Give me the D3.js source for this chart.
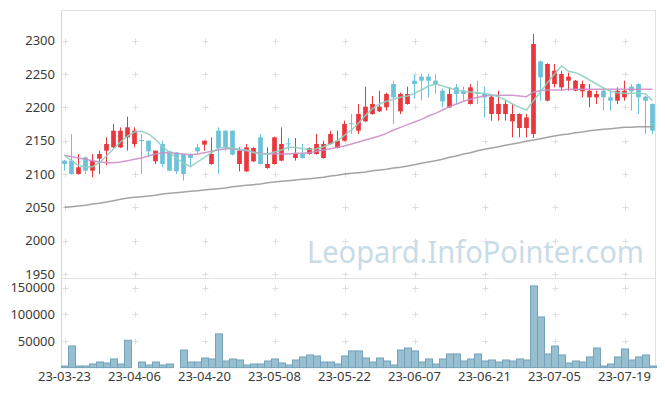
<!DOCTYPE html>
<html>
<head>
<meta charset="utf-8">
<script src="https://cdn.jsdelivr.net/npm/d3@7"></script>
<style>
    body { margin: 0; background: #fff; }
    svg { display: block; font-family: 'Noto Sans', sans-serif; }
</style>
</head>
<body>
<svg width="665" height="396"></svg>
<script>
//////////////////////   DATA    //////////////////////

var dates = ['23-03-23', '23-03-24', '23-03-27', '23-03-28', '23-03-29', '23-03-30', '23-03-31',
    '23-04-03', '23-04-04', '23-04-05', '23-04-06', '23-04-07', '23-04-10', '23-04-11', '23-04-12', '23-04-13',
    '23-04-14', '23-04-17', '23-04-18', '23-04-19', '23-04-20', '23-04-21', '23-04-24', '23-04-25', '23-04-26',
    '23-04-27', '23-04-28',
    '23-05-02', '23-05-03', '23-05-04', '23-05-08', '23-05-09', '23-05-10', '23-05-11', '23-05-12', '23-05-15',
    '23-05-16', '23-05-17', '23-05-18', '23-05-19', '23-05-22', '23-05-23', '23-05-24', '23-05-25', '23-05-26',
    '23-05-30', '23-05-31',
    '23-06-01', '23-06-02', '23-06-05', '23-06-07', '23-06-08', '23-06-09', '23-06-12', '23-06-13', '23-06-14',
    '23-06-15', '23-06-16', '23-06-19', '23-06-20', '23-06-21', '23-06-22', '23-06-23', '23-06-26', '23-06-27',
    '23-06-28', '23-06-29', '23-06-30',
    '23-07-03', '23-07-04', '23-07-05', '23-07-06', '23-07-07', '23-07-10', '23-07-11', '23-07-12', '23-07-13',
    '23-07-14', '23-07-17', '23-07-18', '23-07-19', '23-07-20', '23-07-21', '23-07-24', '23-07-25'];

var opens = [2120, 2120, 2100, 2125, 2105, 2123, 2135, 2140, 2140, 2155,
    2145, 2151, 2150, 2119, 2145, 2134, 2132, 2130, 2130, 2140,
    2144, 2115, 2165, 2165, 2165, 2115, 2104, 2119, 2155, 2109,
    2115, 2120, 2146, 2124, 2130, 2130, 2130, 2124, 2145, 2139,
    2150, 2176, 2165, 2179, 2190, 2194, 2200, 2235, 2194, 2205,
    2240, 2246, 2246, 2240, 2225, 2200, 2230, 2225, 2205, 2222,
    2220, 2190, 2190, 2190, 2179, 2169, 2169, 2160, 2269, 2210,
    2235, 2230, 2240, 2225, 2224, 2215, 2215, 2225, 2215, 2210,
    2215, 2231, 2235, 2216, 2205];

var highs = [2121, 2160, 2130, 2126, 2130, 2135, 2155, 2175, 2170, 2186,
    2170, 2160, 2150, 2135, 2150, 2135, 2133, 2130, 2131, 2145,
    2150, 2155, 2170, 2166, 2165, 2140, 2145, 2140, 2160, 2140,
    2156, 2170, 2154, 2154, 2145, 2140, 2160, 2150, 2165, 2165,
    2180, 2190, 2205, 2231, 2217, 2225, 2222, 2240, 2222, 2231,
    2249, 2250, 2250, 2250, 2228, 2230, 2235, 2231, 2235, 2240,
    2231, 2217, 2225, 2210, 2205, 2191, 2190, 2310, 2270, 2266,
    2265, 2255, 2252, 2241, 2240, 2235, 2225, 2230, 2225, 2230,
    2240, 2235, 2236, 2217, 2206];

var lows = [2105, 2099, 2099, 2100, 2095, 2100, 2113, 2139, 2139, 2135,
    2140, 2100, 2125, 2115, 2110, 2105, 2100, 2090, 2110, 2129,
    2135, 2114, 2100, 2135, 2128, 2104, 2103, 2118, 2114, 2108,
    2114, 2119, 2135, 2120, 2123, 2129, 2129, 2123, 2144, 2138,
    2149, 2160, 2160, 2178, 2189, 2193, 2195, 2175, 2190, 2204,
    2213, 2210, 2215, 2220, 2200, 2199, 2205, 2210, 2204, 2205,
    2185, 2180, 2180, 2180, 2155, 2155, 2155, 2154, 2210, 2209,
    2230, 2225, 2225, 2224, 2215, 2200, 2205, 2195, 2195, 2205,
    2210, 2195, 2190, 2160, 2160];

var closes = [2115, 2100, 2110, 2105, 2120, 2130, 2145, 2165, 2165, 2170,
    2165, 2150, 2134, 2135, 2115, 2105, 2104, 2100, 2124, 2134,
    2150, 2130, 2139, 2139, 2129, 2135, 2140, 2139, 2115, 2115,
    2155, 2145, 2145, 2130, 2124, 2139, 2145, 2145, 2160, 2150,
    2175, 2175, 2190, 2201, 2205, 2201, 2220, 2215, 2220, 2220,
    2235, 2240, 2240, 2234, 2209, 2220, 2220, 2220, 2230, 2221,
    2215, 2216, 2205, 2205, 2190, 2190, 2185, 2295, 2245, 2265,
    2255, 2250, 2246, 2240, 2235, 2225, 2220, 2215, 2210, 2225,
    2225, 2224, 2215, 2210, 2165];

var volumes = [3000, 40600, 3000, 3000, 6800, 10500, 8600, 16200, 6800, 51300,
    0, 10500, 4900, 10500, 4900, 6800, 0, 33000, 10500, 10500,
    18000, 16200, 63200, 12400, 16200, 14300, 4900, 6800, 6800, 12400,
    16200, 8600, 4900, 14300, 20000, 23700, 21800, 10500, 10500, 6800,
    21800, 31300, 31300, 18000, 10500, 18000, 12400, 4900, 33000, 36800,
    31300, 10500, 16200, 6800, 16200, 25600, 25600, 12400, 16200, 25600,
    12400, 14300, 10500, 14300, 12400, 16200, 14300, 153400, 95100, 25600,
    40600, 23700, 8600, 12400, 10500, 20000, 36800, 3000, 6800, 20000,
    35000, 14300, 20000, 23700, 3000];

var ma5 = [2128, 2120, 2113, 2110, 2111, 2117, 2127, 2138, 2148, 2157,
    2163, 2164, 2160, 2152, 2141, 2132, 2124, 2116, 2111, 2118,
    2125, 2132, 2139, 2140, 2139, 2137, 2136, 2132, 2130, 2130,
    2133, 2136, 2140, 2140, 2138, 2137, 2138, 2141, 2145, 2150,
    2158, 2166, 2176, 2188, 2198, 2205, 2209, 2212, 2215, 2217,
    2221, 2226, 2232, 2235, 2232, 2229, 2226, 2224, 2223, 2222,
    2221, 2219, 2216, 2211, 2205, 2200, 2196, 2210, 2223, 2237,
    2250, 2262, 2254, 2252, 2247, 2241, 2235, 2229, 2224, 2222,
    2221, 2221, 2221, 2220, 2210];

var ma20 = [2128, 2126, 2124, 2122, 2120, 2118, 2117, 2117, 2118, 2120,
    2122, 2124, 2127, 2130, 2132, 2132, 2131, 2130, 2129, 2130,
    2132, 2134, 2136, 2138, 2138, 2136, 2135, 2133, 2131, 2130,
    2130, 2130, 2130, 2131, 2131, 2132, 2134, 2136, 2138, 2140,
    2142, 2145, 2148, 2151, 2154, 2157, 2161, 2166, 2170, 2174,
    2178, 2182, 2187, 2191, 2196, 2201, 2205, 2209, 2212, 2215,
    2217, 2218, 2218, 2218, 2218, 2217, 2216, 2223, 2225, 2226,
    2226, 2226, 2227, 2227, 2227, 2227, 2227, 2227, 2227, 2227,
    2227, 2227, 2227, 2227, 2227];

var ma60 = [2050, 2051, 2052, 2053, 2055, 2056, 2058, 2060, 2062, 2064,
    2065, 2066, 2067, 2068, 2070, 2071, 2072, 2073, 2074, 2075,
    2076, 2077, 2078, 2079, 2081, 2082, 2083, 2084, 2085, 2087,
    2088, 2089, 2090, 2091, 2092, 2093, 2094, 2095, 2097, 2098,
    2100, 2101, 2102, 2103, 2105, 2106, 2107, 2109, 2110, 2112,
    2114, 2116, 2118, 2120, 2122, 2125, 2127, 2130, 2132, 2135,
    2137, 2139, 2141, 2143, 2145, 2147, 2149, 2151, 2153, 2155,
    2157, 2159, 2160, 2162, 2163, 2165, 2166, 2167, 2168, 2169,
    2170, 2170, 2171, 2171, 2171];

var priceTicks = [1950, 2000, 2050, 2100, 2150, 2200, 2250, 2300];
var volumeTicks = [50000, 100000, 150000];
var dateTicks = ['23-03-23', '23-04-06', '23-04-20', '23-05-08', '23-05-22',
    '23-06-07', '23-06-21', '23-07-05', '23-07-19'];

//////////////////////   LAYOUT    //////////////////////

var CONFIG = {
    left: 61,
    right: 656,
    priceTop: 10,
    priceBottom: 278,
    volTop: 278.3,
    volBottom: 367.6,
    up: '#e8383d',
    down: '#6cc2d9',
    frame: '#e2e2e2'
};

var svg = d3.select('svg');

var x = d3.scaleBand().domain(dates).range([CONFIG.left, CONFIG.right]);
var bw = x.bandwidth();
var yPrice = d3.scaleLinear().domain([1944, 2346]).range([CONFIG.priceBottom, CONFIG.priceTop]);
var yVol = d3.scaleLinear().domain([0, 167650]).range([CONFIG.volBottom, CONFIG.volTop]);

/**
 * @param {string} d
 * @returns {number} centre of the candle slot
 */
function cx(d) {
    return x(d) + bw / 2;
}

//////////////////////   FRAME + GRID    //////////////////////

var frame = svg.append('g')
    .attr('stroke', CONFIG.frame)
    .attr('stroke-width', 1)
    .attr('fill', 'none');

frame.append('line')
    .attr('x1', CONFIG.left).attr('x2', CONFIG.right)
    .attr('y1', CONFIG.priceTop + 0.5).attr('y2', CONFIG.priceTop + 0.5);
frame.append('line')
    .attr('x1', CONFIG.left).attr('x2', CONFIG.right)
    .attr('y1', CONFIG.priceBottom + 0.5).attr('y2', CONFIG.priceBottom + 0.5);
frame.append('line')
    .attr('x1', CONFIG.right - 0.5).attr('x2', CONFIG.right - 0.5)
    .attr('y1', CONFIG.priceTop).attr('y2', CONFIG.volBottom);
frame.append('line')
    .attr('x1', CONFIG.left + 0.5).attr('x2', CONFIG.left + 0.5)
    .attr('y1', CONFIG.priceTop).attr('y2', CONFIG.volBottom)
    .attr('stroke', '#d6d6d6');

// only the crossings of the grid are drawn, as small "+" marks
var crossYs = priceTicks.map(yPrice).concat(volumeTicks.map(yVol));
var crosses = [];
dateTicks.forEach(function (t) {
    crossYs.forEach(function (yy) {
        crosses.push({x: Math.round(cx(t)) + 0.5, y: Math.round(yy) + 0.5});
    });
});

svg.append('g')
    .selectAll('path')
    .data(crosses)
    .enter()
    .append('path')
    .attr('d', function (d) {
        return 'M' + (d.x - 3) + ',' + d.y + 'H' + (d.x + 3) +
            'M' + d.x + ',' + (d.y - 3) + 'V' + (d.y + 3);
    })
    .attr('stroke', '#dedede')
    .attr('stroke-width', 1);

// watermark
svg.append('text')
    .attr('x', 307)
    .attr('y', 263)
    .attr('textLength', 337)
    .attr('lengthAdjust', 'spacingAndGlyphs')
    .style('font-size', '30px')
    .style('fill', '#c8dce8')
    .text('Leopard.InfoPointer.com');

//////////////////////   VOLUME    //////////////////////

var volBars = dates.map(function (d, i) {
    return {date: d, v: volumes[i]};
});

svg.append('g')
    .selectAll('rect')
    .data(volBars)
    .enter()
    .append('rect')
    .attr('x', function (d) { return x(d.date) + 0.5; })
    .attr('y', function (d) { return yVol(d.v); })
    .attr('width', bw)
    .attr('height', function (d) { return yVol(0) - yVol(d.v); })
    .attr('fill', '#98bfd0')
    .attr('stroke', '#74a3ba')
    .attr('stroke-width', 1);

//////////////////////   CANDLES    //////////////////////

var candles = dates.map(function (d, i) {
    return {date: d, o: opens[i], h: highs[i], l: lows[i], c: closes[i]};
});

var cg = svg.append('g')
    .selectAll('g')
    .data(candles)
    .enter()
    .append('g')
    .attr('fill', function (d) { return d.c >= d.o ? CONFIG.up : CONFIG.down; })
    .attr('stroke', function (d) { return d.c >= d.o ? CONFIG.up : CONFIG.down; });

cg.append('line')
    .attr('x1', function (d) { return cx(d.date); })
    .attr('x2', function (d) { return cx(d.date); })
    .attr('y1', function (d) { return yPrice(d.h); })
    .attr('y2', function (d) { return yPrice(d.l); })
    .attr('stroke-width', 1);

cg.append('rect')
    .attr('x', function (d) { return cx(d.date) - 2.35; })
    .attr('width', 4.7)
    .attr('y', function (d) { return yPrice(Math.max(d.o, d.c)); })
    .attr('height', function (d) {
        return Math.max(1, yPrice(Math.min(d.o, d.c)) - yPrice(Math.max(d.o, d.c)));
    })
    .attr('stroke', 'none');

//////////////////////   MOVING AVERAGES    //////////////////////

var maLine = d3.line()
    .x(function (v, i) { return cx(dates[i]); })
    .y(function (v) { return yPrice(v); });

[{values: ma60, color: '#9a9a9a'},
    {values: ma20, color: '#cc8fc8'},
    {values: ma5, color: '#8fcfc2'}].forEach(function (m) {
    svg.append('path')
        .attr('d', maLine(m.values))
        .attr('fill', 'none')
        .attr('stroke', m.color)
        .attr('stroke-width', 1.5)
        .attr('stroke-opacity', 0.9);
});

//////////////////////   AXES    //////////////////////

/**
 * @param {Object} g axis group
 */
function styleAxis(g) {
    g.select('.domain').remove();
    g.selectAll('text')
        .style('font-size', '13px')
        .style('font-family', "'Noto Sans', sans-serif")
        .style('fill', '#3a3a3a');
}

svg.append('g')
    .attr('transform', 'translate(' + CONFIG.left + ',0)')
    .call(d3.axisLeft(yPrice).tickValues(priceTicks).tickSize(0).tickPadding(6).tickFormat(d3.format('d')))
    .call(styleAxis);

svg.append('g')
    .attr('transform', 'translate(' + CONFIG.left + ',0)')
    .call(d3.axisLeft(yVol).tickValues(volumeTicks).tickSize(0).tickPadding(6).tickFormat(d3.format('d')))
    .call(styleAxis);

svg.append('g')
    .attr('transform', 'translate(0,' + CONFIG.volBottom + ')')
    .call(d3.axisBottom(x).tickValues(dateTicks).tickSize(0).tickPadding(4.5))
    .call(styleAxis);
</script>
</body>
</html>
